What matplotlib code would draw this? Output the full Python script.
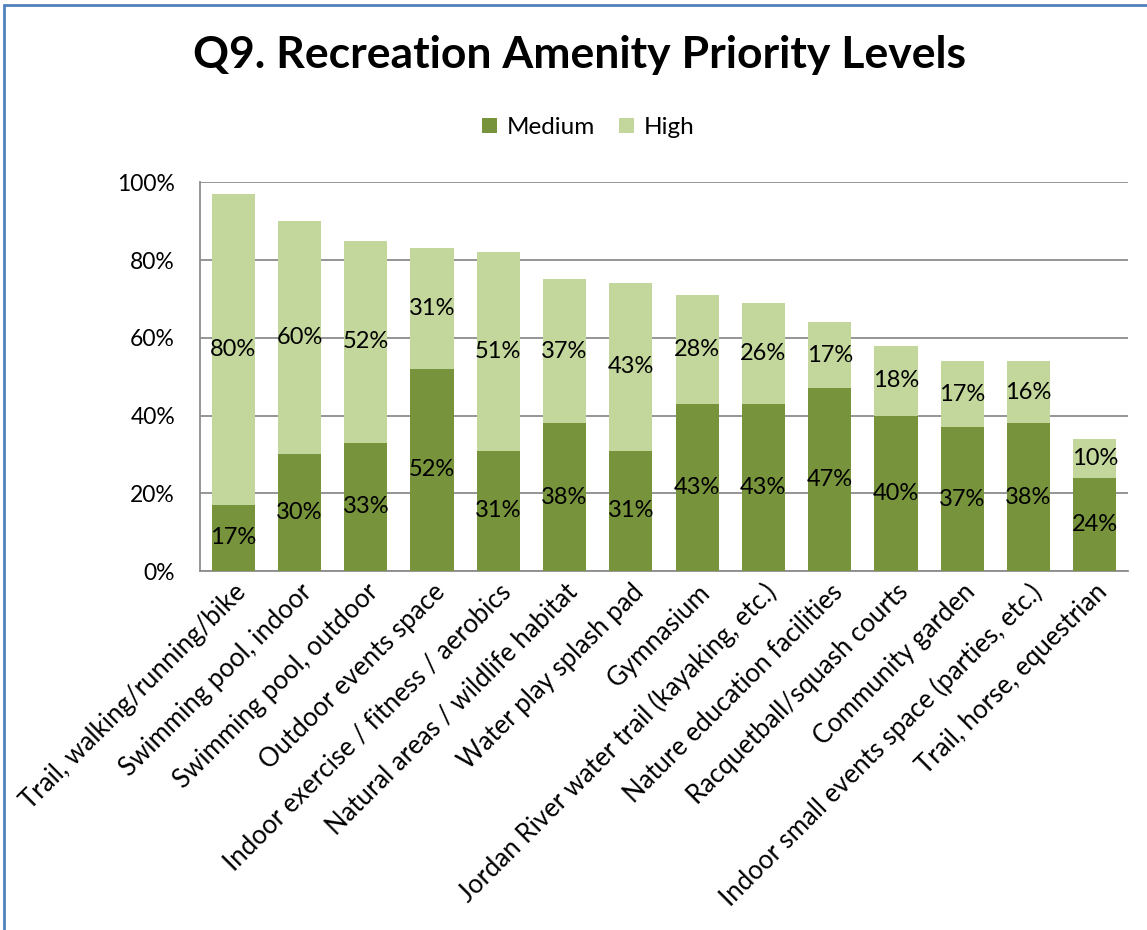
import matplotlib.pyplot as plt
import numpy as np
from matplotlib.patches import Rectangle

categories = [
    "Trail, walking/running/bike",
    "Swimming pool, indoor",
    "Swimming pool, outdoor",
    "Outdoor events space",
    "Indoor exercise / fitness / aerobics",
    "Natural areas / wildlife habitat",
    "Water play splash pad",
    "Gymnasium",
    "Jordan River water trail (kayaking, etc.)",
    "Nature education facilities",
    "Racquetball/squash courts",
    "Community garden",
    "Indoor small events space (parties, etc.)",
    "Trail, horse, equestrian",
]
medium = [17, 30, 33, 52, 31, 38, 31, 43, 43, 47, 40, 37, 38, 24]
high = [80, 60, 52, 31, 51, 37, 43, 28, 26, 17, 18, 17, 16, 10]
yticks = [0, 20, 40, 60, 80, 100]

plt.rcParams['font.family'] = ['Lato', 'DejaVu Sans']

fig = plt.figure(figsize=(11.47, 9.3), dpi=100)
ax = fig.add_axes([0.1744, 0.386, 0.809, 0.418])

x = np.arange(len(categories))
w = 0.65
med_c = '#77933C'
high_c = '#C3D69B'
b1 = ax.bar(x, medium, w, color=med_c, label='Medium', zorder=3)
b2 = ax.bar(x, high, w, bottom=medium, color=high_c, label='High', zorder=3)

# value labels in the middle of each segment
for i in range(len(x)):
    ax.text(x[i], medium[i] / 2, f"{medium[i]}%", ha='center', va='center',
            fontsize=17, zorder=4)
    ax.text(x[i], medium[i] + high[i] / 2, f"{high[i]}%", ha='center',
            va='center', fontsize=17, zorder=4)

ax.set_xlim(-0.5, len(x) - 0.5)
ax.set_ylim(0, 100)
ax.set_yticks(yticks)
ax.set_yticklabels([f"{t}%" for t in yticks], fontsize=16.5)
ax.yaxis.grid(True, color='#8c8c8c', linewidth=1.3, zorder=0)
ax.tick_params(axis='y', length=0, pad=18)
ax.tick_params(axis='x', length=0, pad=6)
ax.set_xticks(x)
ax.set_xticklabels(categories, rotation=45, ha='right', va='top',
                   rotation_mode='anchor', fontsize=18.5)
for s in ['top', 'right']:
    ax.spines[s].set_visible(False)
for s in ['left', 'bottom']:
    ax.spines[s].set_color('#8c8c8c')
    ax.spines[s].set_linewidth(1.3)

fig.text(0.505, 0.941, "Q9. Recreation Amenity Priority Levels", ha='center',
         va='center', fontsize=32, fontweight='bold')
fig.legend(handles=[b1, b2], labels=['Medium', 'High'], loc='center',
           bbox_to_anchor=(0.513, 0.863), ncol=2, frameon=False, fontsize=17.5,
           handlelength=0.6, handleheight=0.6, columnspacing=1.0,
           handletextpad=0.4)

# blue chart border (clipped at right and bottom like the reference)
fig.patches.append(Rectangle((4 / 1147, -0.05), 1.1, (930 - 5) / 930 + 0.05,
                             transform=fig.transFigure, fill=False,
                             edgecolor='#4F81BD', linewidth=2))

fig.savefig("out.png", dpi=100)
